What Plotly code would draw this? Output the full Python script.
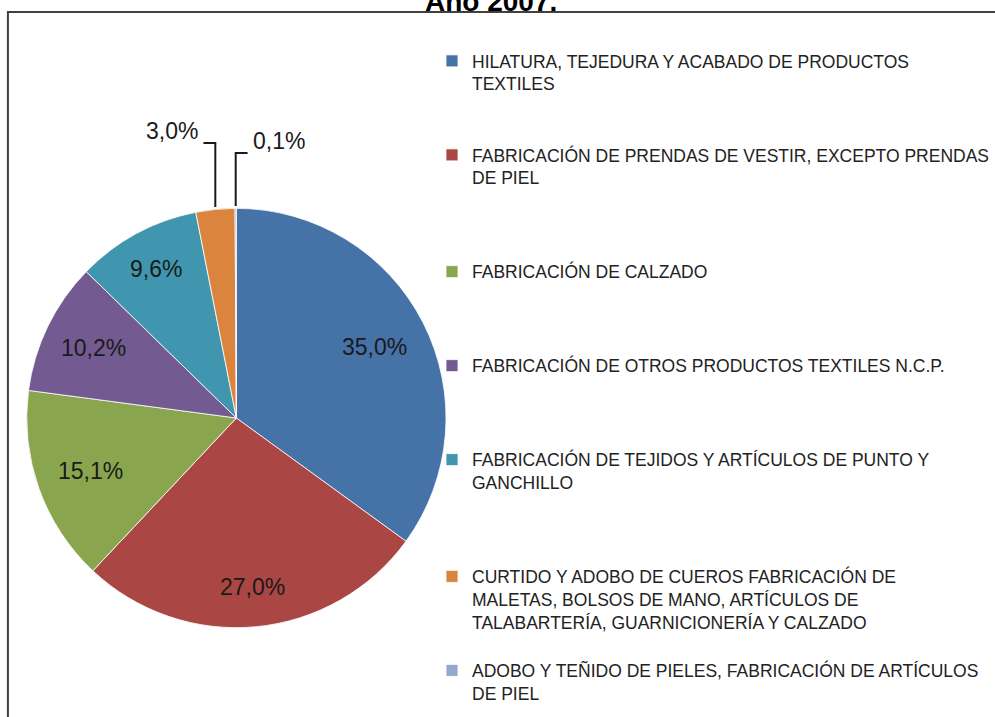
import math
import plotly.graph_objects as go

# ---------------- data ----------------
categories = [
    "HILATURA, TEJEDURA Y ACABADO DE PRODUCTOS<br>TEXTILES",
    "FABRICACIÓN DE PRENDAS DE VESTIR, EXCEPTO PRENDAS<br>DE PIEL",
    "FABRICACIÓN DE CALZADO",
    "FABRICACIÓN DE OTROS PRODUCTOS TEXTILES N.C.P.",
    "FABRICACIÓN DE TEJIDOS Y ARTÍCULOS DE PUNTO Y<br>GANCHILLO",
    "CURTIDO Y ADOBO DE CUEROS FABRICACIÓN DE<br>MALETAS, BOLSOS DE MANO, ARTÍCULOS DE<br>TALABARTERÍA, GUARNICIONERÍA Y CALZADO",
    "ADOBO Y TEÑIDO DE PIELES, FABRICACIÓN DE ARTÍCULOS<br>DE PIEL",
]
shares = [35.0, 27.0, 15.1, 10.2, 9.6, 3.0, 0.1]
title_text = "Año 2007."

# ---------------- style ----------------
colors = ["#4572A7", "#AA4643", "#89A54E", "#735A91", "#3F96AE", "#DB843D", "#93A9CF"]
W, H = 995, 717
CX, CY, R = 239, 418, 212          # pie centre / radius in pixels
LEG_FONT = 17.5
legend_lines = [4, 5, 4, 4, 5, 4, 2]   # rows reserved per legend entry (spacing)
outside = [False, False, False, False, False, True, True]
label_r = [0.74, 0.80, 0.74, 0.76, 0.80, 0, 0]   # radial position of inside labels
FONT = "Liberation Sans, Arial, sans-serif"


def pad(label, n):
    k = label.count("<br>") + 1
    return label + "<br>&nbsp;" * max(0, n - k)


legend_labels = [pad(c, n) for c, n in zip(categories, legend_lines)]


def px_x(x):
    return x / W


def px_y(y):
    return 1 - y / H


fig = go.Figure()
fig.add_trace(go.Pie(
    labels=legend_labels,
    values=shares,
    sort=False,
    direction="clockwise",
    rotation=0,
    marker=dict(colors=colors, line=dict(color="rgba(255,255,255,0.8)", width=1)),
    textinfo="none",
    domain=dict(x=[px_x(CX - R), px_x(CX + R)], y=[px_y(CY + R), px_y(CY - R)]),
    hoverinfo="label+percent",
    showlegend=True,
))

shapes = []
annotations = []

# border frame (cropped at right / bottom)
shapes.append(dict(type="rect", xref="paper", yref="paper",
                   x0=px_x(8), x1=1.02, y0=-0.02, y1=px_y(12),
                   line=dict(color="#404040", width=2), fillcolor="rgba(0,0,0,0)",
                   layer="below"))

# title (cropped at top like the reference)
annotations.append(dict(text="<b>" + title_text + "</b>", xref="paper", yref="paper",
                        x=px_x(496), y=px_y(19), xanchor="center", yanchor="bottom",
                        showarrow=False,
                        font=dict(family=FONT, size=28, color="#000000")))

# slice labels, positioned from the data (angle bisector of each slice)
total = sum(shares)
cum = 0.0
elbow_y = {5: 143, 6: 153}
for i, v in enumerate(shares):
    mid = (cum + v / 2) / total
    cum += v
    th = 2 * math.pi * mid
    txt = ("%.1f%%" % v).replace(".", ",")
    if not outside[i]:
        lx = CX + label_r[i] * R * math.sin(th)
        ly = CY - label_r[i] * R * math.cos(th)
        annotations.append(dict(text=txt, xref="paper", yref="paper",
                                x=px_x(lx), y=px_y(ly), xanchor="center", yanchor="middle",
                                showarrow=False,
                                font=dict(family=FONT, size=23, color="#1a1a1a")))
        continue
    ex = CX + R * math.sin(th)
    ey = CY - R * math.cos(th)
    side = -1 if math.sin(th) < -0.01 else 1
    ey2 = elbow_y[i]
    hx = ex + side * 12
    path = "M {} {} L {} {} L {} {}".format(px_x(ex), px_y(ey), px_x(ex), px_y(ey2), px_x(hx), px_y(ey2))
    shapes.append(dict(type="path", xref="paper", yref="paper", path=path,
                       line=dict(color="#1a1a1a", width=2)))
    annotations.append(dict(text=txt, xref="paper", yref="paper",
                            x=px_x(hx + side * 3), y=px_y(ey2 - 12),
                            xanchor="right" if side < 0 else "left", yanchor="middle",
                            showarrow=False,
                            font=dict(family=FONT, size=23, color="#1a1a1a")))

fig.update_layout(
    width=W, height=H, autosize=False,
    margin=dict(l=0, r=0, t=0, b=0),
    paper_bgcolor="white", plot_bgcolor="white",
    separators=",.",
    showlegend=True,
    legend=dict(x=px_x(437), y=px_y(43), xanchor="left", yanchor="top",
                valign="top", traceorder="normal",
                font=dict(family=FONT, size=LEG_FONT, color="#222222"),
                bgcolor="rgba(0,0,0,0)"),
    shapes=shapes,
    annotations=annotations,
)

fig.write_html("out.html",
               config={"displayModeBar": False},
               post_script="document.body.style.margin='0';document.body.style.overflow='hidden';")
